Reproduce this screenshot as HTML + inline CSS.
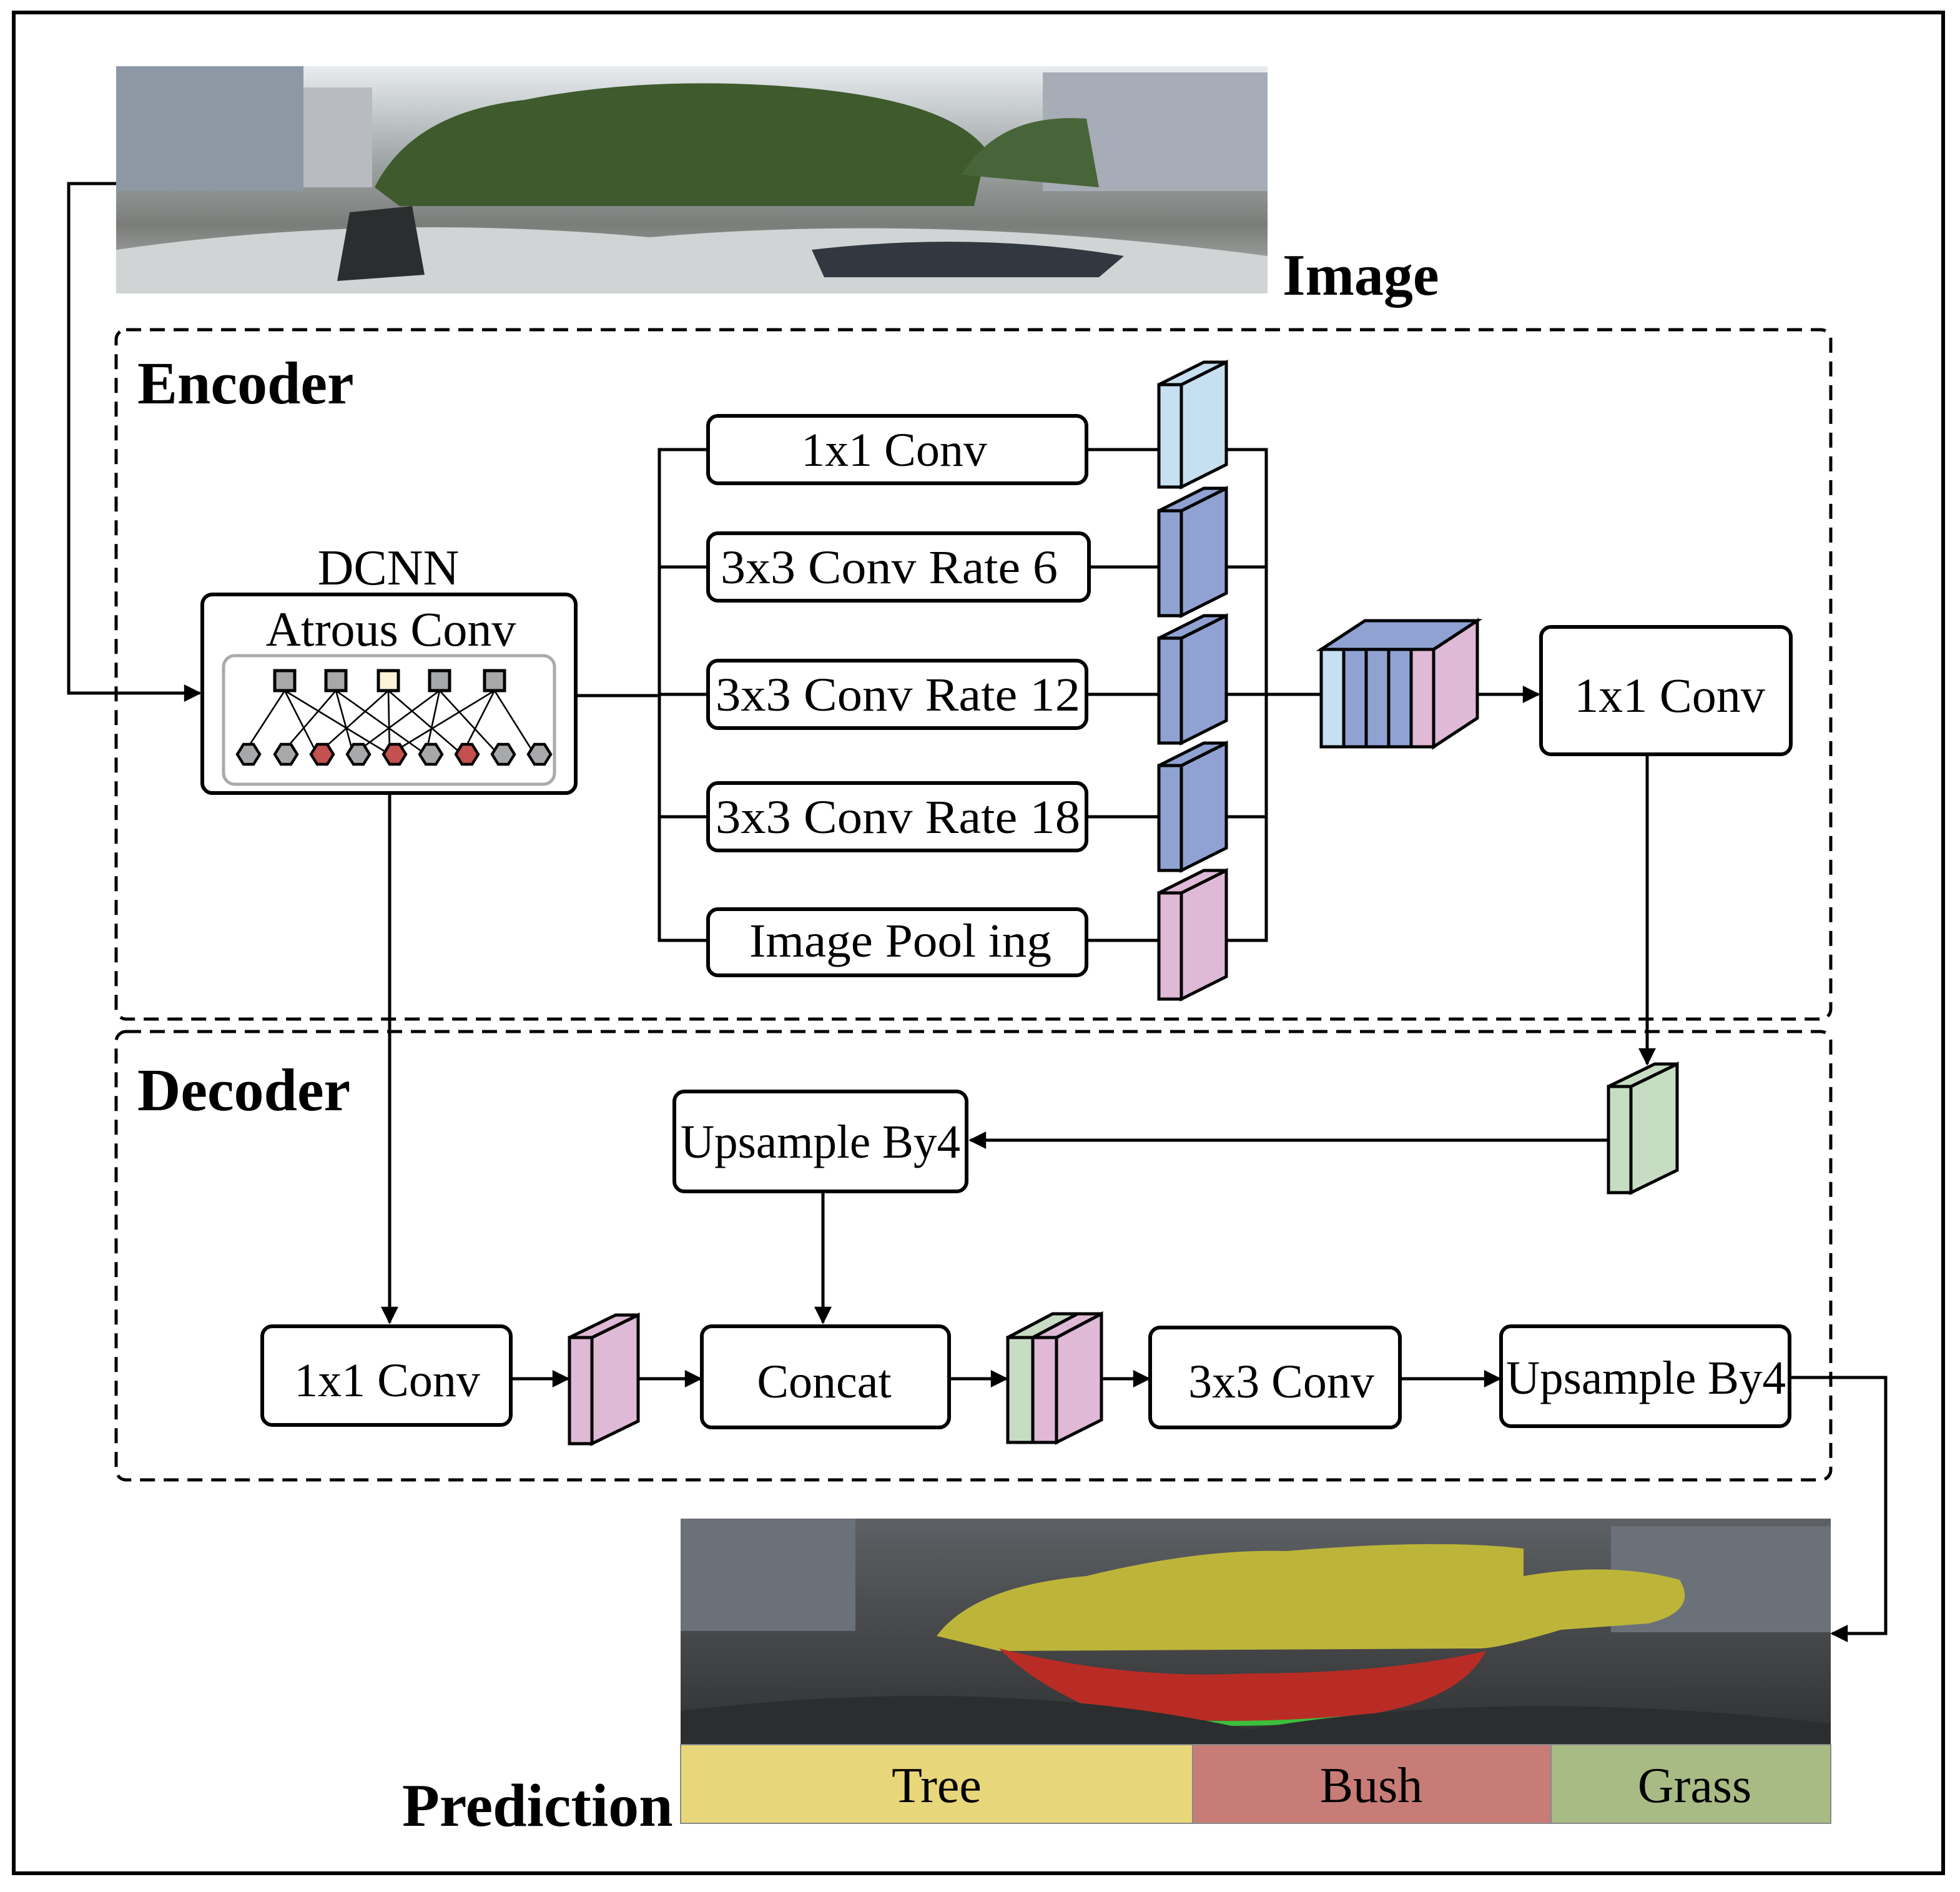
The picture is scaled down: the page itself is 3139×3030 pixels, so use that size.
<!DOCTYPE html>
<html><head><meta charset="utf-8"><style>
html,body{margin:0;padding:0;background:#fff}
svg{display:block}
text{font-family:"Liberation Serif",serif;fill:#000}
</style></head><body>
<svg width="3139" height="3030" viewBox="0 0 1569.5 1515" preserveAspectRatio="none" xmlns="http://www.w3.org/2000/svg">
<defs>
<marker id="ar2" viewBox="0 0 10 10" refX="9" refY="5" markerWidth="16" markerHeight="14" orient="auto" markerUnits="userSpaceOnUse"><path d="M0,0L10,5L0,10z" fill="#000"/></marker>
<linearGradient id="sky" x1="0" y1="0" x2="0" y2="1">
<stop offset="0" stop-color="#e8ecef"/><stop offset="0.45" stop-color="#9aa0a0"/><stop offset="0.7" stop-color="#7b7d7a"/><stop offset="1" stop-color="#b9bcbc"/></linearGradient>
<linearGradient id="dark" x1="0" y1="0" x2="0" y2="1">
<stop offset="0" stop-color="#5d6064"/><stop offset="0.5" stop-color="#46484a"/><stop offset="1" stop-color="#2f3132"/></linearGradient>
</defs>
<rect x="0" y="0" width="1569.5" height="1515" fill="#fff"/>
<rect x="11" y="10" width="1545" height="1490" fill="none" stroke="#000" stroke-width="3"/>

<!-- top photo -->
<rect x="93" y="53" width="922" height="182" fill="url(#sky)"/>
<rect x="93" y="53" width="150" height="100" fill="#8d98a5"/>
<rect x="243" y="70" width="55" height="80" fill="#b8bcc0"/>
<rect x="835" y="58" width="180" height="95" fill="#a6adb6"/>
<path d="M300,150 Q330,90 420,80 Q520,60 640,70 Q760,80 790,120 L780,165 L320,165 Z" fill="#3f5a2c"/>
<path d="M770,140 Q800,90 870,95 L880,150 Z" fill="#48653a"/>
<path d="M93,200 Q300,170 520,190 Q750,170 1015,205 L1015,235 L93,235 Z" fill="#d0d4d4"/>
<path d="M280,170 L330,165 L340,220 L270,225Z" fill="#2b2d2e"/>
<path d="M650,200 Q780,185 900,205 L880,222 L660,222Z" fill="#32383f"/>
<text x="1027" y="236" font-size="47" font-weight="bold">Image</text>

<!-- input line -->
<polyline points="93,147 55,147 55,555 160,555" fill="none" stroke="#000" stroke-width="2.5" marker-end="url(#ar2)"/>

<!-- encoder -->
<rect x="93" y="264" width="1373" height="552" rx="8" fill="none" stroke="#000" stroke-width="2.5" stroke-dasharray="12,7"/>
<text x="110" y="323" font-size="48" font-weight="bold">Encoder</text>

<text x="311" y="468" font-size="40" text-anchor="middle">DCNN</text>
<rect x="162" y="476" width="299" height="159" rx="8" fill="#fff" stroke="#000" stroke-width="3"/>
<text x="313" y="517" font-size="39" text-anchor="middle">Atrous Conv</text>
<rect x="179" y="525" width="265" height="103" rx="9" fill="#fff" stroke="#aaa" stroke-width="2.5"/>
<g stroke="#000" stroke-width="1.3">
<line x1="228" y1="553" x2="195" y2="604"/><line x1="228" y1="553" x2="254" y2="604"/><line x1="228" y1="553" x2="312" y2="604"/>
<line x1="269" y1="553" x2="225" y2="604"/><line x1="269" y1="553" x2="283" y2="604"/><line x1="269" y1="553" x2="341" y2="604"/>
<line x1="311" y1="553" x2="254" y2="604"/><line x1="311" y1="553" x2="312" y2="604"/><line x1="311" y1="553" x2="370" y2="604"/>
<line x1="352" y1="553" x2="283" y2="604"/><line x1="352" y1="553" x2="341" y2="604"/><line x1="352" y1="553" x2="399" y2="604"/>
<line x1="396" y1="553" x2="312" y2="604"/><line x1="396" y1="553" x2="370" y2="604"/><line x1="396" y1="553" x2="428" y2="604"/>
</g>
<g stroke="#000" stroke-width="2.5">
<rect x="220" y="537" width="16" height="16" fill="#a7a8aa"/>
<rect x="261" y="537" width="16" height="16" fill="#a7a8aa"/>
<rect x="303" y="537" width="16" height="16" fill="#fdf3d6"/>
<rect x="344" y="537" width="16" height="16" fill="#a7a8aa"/>
<rect x="388" y="537" width="16" height="16" fill="#a7a8aa"/>
</g>
<g stroke="#000" stroke-width="2.2">
<polygon points="191,596 199,596 204,604 199,612 191,612 186,604" fill="#a7a8aa" transform="translate(4,0)"/>
<polygon points="221,596 229,596 234,604 229,612 221,612 216,604" fill="#a7a8aa" transform="translate(4,0)"/>
<polygon points="250,596 258,596 263,604 258,612 250,612 245,604" fill="#c4504f" transform="translate(4,0)"/>
<polygon points="279,596 287,596 292,604 287,612 279,612 274,604" fill="#a7a8aa" transform="translate(4,0)"/>
<polygon points="308,596 316,596 321,604 316,612 308,612 303,604" fill="#c4504f" transform="translate(4,0)"/>
<polygon points="337,596 345,596 350,604 345,612 337,612 332,604" fill="#a7a8aa" transform="translate(4,0)"/>
<polygon points="366,596 374,596 379,604 374,612 366,612 361,604" fill="#c4504f" transform="translate(4,0)"/>
<polygon points="395,596 403,596 408,604 403,612 395,612 390,604" fill="#a7a8aa" transform="translate(4,0)"/>
<polygon points="424,596 432,596 437,604 432,612 424,612 419,604" fill="#a7a8aa" transform="translate(4,0)"/>
</g>

<!-- branches -->
<g stroke="#000" stroke-width="2.5" fill="none">
<line x1="461" y1="557" x2="528" y2="557"/>
<polyline points="567,360 528,360 528,753 567,753"/>
<line x1="528" y1="454" x2="567" y2="454"/>
<line x1="528" y1="556" x2="567" y2="556"/>
<line x1="528" y1="654" x2="567" y2="654"/>
<line x1="870" y1="360" x2="928" y2="360"/>
<line x1="872" y1="454" x2="928" y2="454"/>
<line x1="870" y1="556" x2="928" y2="556"/>
<line x1="870" y1="654" x2="928" y2="654"/>
<line x1="870" y1="753" x2="928" y2="753"/>
<polyline points="982,360 1014,360 1014,753 982,753"/>
<line x1="982" y1="454" x2="1014" y2="454"/>
<line x1="982" y1="556" x2="1058" y2="556"/>
<line x1="982" y1="654" x2="1014" y2="654"/>
</g>
<g fill="#fff" stroke="#000" stroke-width="3">
<rect x="567" y="333" width="303" height="54" rx="8"/>
<rect x="567" y="427" width="305" height="54" rx="8"/>
<rect x="567" y="529" width="303" height="54" rx="8"/>
<rect x="567" y="627" width="303" height="54" rx="8"/>
<rect x="567" y="728" width="303" height="53" rx="8"/>
</g>
<g font-size="38" text-anchor="middle">
<text x="716" y="373">1x1  Conv</text>
<text x="712" y="467" textLength="270" lengthAdjust="spacingAndGlyphs">3x3  Conv  Rate 6</text>
<text x="719" y="569" textLength="292" lengthAdjust="spacingAndGlyphs">3x3  Conv  Rate 12</text>
<text x="719" y="667" textLength="292" lengthAdjust="spacingAndGlyphs">3x3  Conv  Rate 18</text>
<text x="721" y="766" textLength="242" lengthAdjust="spacingAndGlyphs">Image  Pool ing</text>
</g>

<!-- encoder blocks -->
<g stroke="#000" stroke-width="2.5" stroke-linejoin="miter">
<g fill="#c6e0f2"><polygon points="946,308 982,290 982,372 946,390"/><polygon points="928,308 964,290 982,290 946,308"/><rect x="928" y="308" width="18" height="82"/></g>
<g fill="#8fa2d2"><polygon points="946,409 982,391 982,475 946,493"/><polygon points="928,409 964,391 982,391 946,409"/><rect x="928" y="409" width="18" height="84"/></g>
<g fill="#8fa2d2"><polygon points="946,511 982,493 982,577 946,595"/><polygon points="928,511 964,493 982,493 946,511"/><rect x="928" y="511" width="18" height="84"/></g>
<g fill="#8fa2d2"><polygon points="946,613 982,595 982,679 946,697"/><polygon points="928,613 964,595 982,595 946,613"/><rect x="928" y="613" width="18" height="84"/></g>
<g fill="#dfb9d6"><polygon points="946,715 982,697 982,782 946,800"/><polygon points="928,715 964,697 982,697 946,715"/><rect x="928" y="715" width="18" height="85"/></g>
</g>
<!-- concat block -->
<g stroke="#000" stroke-width="2.5">
<polygon points="1148,520 1183,497 1183,575 1148,598" fill="#dfb9d6"/>
<polygon points="1058,520 1093,497 1183,497 1148,520" fill="#8fa2d2"/>
<rect x="1058" y="520" width="18" height="78" fill="#c6e0f2"/>
<rect x="1076" y="520" width="18" height="78" fill="#8fa2d2"/>
<rect x="1094" y="520" width="18" height="78" fill="#8fa2d2"/>
<rect x="1112" y="520" width="18" height="78" fill="#8fa2d2"/>
<rect x="1130" y="520" width="18" height="78" fill="#dfb9d6"/>
</g>
<line x1="1183" y1="556" x2="1232" y2="556" stroke="#000" stroke-width="2.5" marker-end="url(#ar2)"/>
<rect x="1234" y="502" width="200" height="102" rx="8" fill="#fff" stroke="#000" stroke-width="3"/>
<text x="1337" y="570" font-size="39" text-anchor="middle">1x1  Conv</text>
<line x1="1319" y1="604" x2="1319" y2="852" stroke="#000" stroke-width="2.5" marker-end="url(#ar2)"/>

<!-- decoder -->
<rect x="93" y="826" width="1373" height="359" rx="8" fill="none" stroke="#000" stroke-width="2.5" stroke-dasharray="12,7"/>
<text x="110" y="889" font-size="48" font-weight="bold">Decoder</text>

<g stroke="#000" stroke-width="2.5">
<polygon points="1306,870 1343,852 1343,937 1306,955" fill="#c7ddc3"/>
<polygon points="1288,870 1325,852 1343,852 1306,870" fill="#c7ddc3"/>
<rect x="1288" y="870" width="18" height="85" fill="#c7ddc3"/>
</g>
<g stroke="#000" stroke-width="2.5" fill="none">
<line x1="1288" y1="913" x2="777" y2="913" marker-end="url(#ar2)"/>
<line x1="659" y1="954" x2="659" y2="1059" marker-end="url(#ar2)"/>
<line x1="312" y1="635" x2="312" y2="1059" marker-end="url(#ar2)"/>
<line x1="409" y1="1104" x2="455" y2="1104" marker-end="url(#ar2)"/>
<line x1="511" y1="1104" x2="561" y2="1104" marker-end="url(#ar2)"/>
<line x1="760" y1="1104" x2="806" y2="1104" marker-end="url(#ar2)"/>
<line x1="882" y1="1104" x2="920" y2="1104" marker-end="url(#ar2)"/>
<line x1="1121" y1="1104" x2="1201" y2="1104" marker-end="url(#ar2)"/>
<polyline points="1433,1103 1510,1103 1510,1308 1467,1308" marker-end="url(#ar2)"/>
</g>
<g fill="#fff" stroke="#000" stroke-width="3">
<rect x="540" y="874" width="234" height="80" rx="8"/>
<rect x="210" y="1062" width="199" height="79" rx="8"/>
<rect x="562" y="1062" width="198" height="81" rx="8"/>
<rect x="921" y="1063" width="200" height="80" rx="8"/>
<rect x="1202" y="1062" width="231" height="80" rx="8"/>
</g>
<g font-size="38" text-anchor="middle">
<text x="657" y="927" textLength="224" lengthAdjust="spacingAndGlyphs">Upsample By4</text>
<text x="310" y="1118">1x1  Conv</text>
<text x="660" y="1119">Concat</text>
<text x="1026" y="1119">3x3  Conv</text>
<text x="1318" y="1116" textLength="224" lengthAdjust="spacingAndGlyphs">Upsample By4</text>
</g>
<g stroke="#000" stroke-width="2.5">
<polygon points="474,1071 511,1053 511,1138 474,1156" fill="#dfb9d6"/>
<polygon points="456,1071 493,1053 511,1053 474,1071" fill="#dfb9d6"/>
<rect x="456" y="1071" width="18" height="85" fill="#dfb9d6"/>
</g>
<g stroke="#000" stroke-width="2.5">
<polygon points="846,1071 882,1052 882,1137 846,1155" fill="#dfb9d6"/>
<polygon points="807,1071 843,1052 882,1052 846,1071" fill="#dfb9d6"/>
<polygon points="807,1071 843,1052 863,1052 827,1071" fill="#c7ddc3"/>
<rect x="807" y="1071" width="20" height="84" fill="#c7ddc3"/>
<rect x="827" y="1071" width="19" height="84" fill="#dfb9d6"/>
</g>

<!-- prediction photo -->
<rect x="545" y="1216" width="921" height="181" fill="url(#dark)"/>
<rect x="545" y="1216" width="140" height="90" fill="#6a7178"/>
<rect x="1290" y="1222" width="176" height="85" fill="#6b7178"/>
<path d="M750,1310 Q780,1270 870,1262 Q960,1240 1030,1242 Q1150,1232 1220,1240 L1220,1262 Q1290,1250 1345,1265 Q1360,1290 1320,1300 L1250,1305 Q1200,1320 1185,1320 L800,1322 Z" fill="#bdb53a"/>
<path d="M800,1320 Q900,1345 1000,1340 Q1110,1340 1190,1322 Q1170,1360 1100,1372 Q980,1385 880,1370 Q830,1350 800,1320Z" fill="#b82c25"/>
<path d="M880,1375 Q980,1385 1090,1375" stroke="#3cbf3c" stroke-width="4" fill="none"/>
<path d="M545,1370 Q800,1340 1000,1385 Q1200,1350 1466,1380 L1466,1397 L545,1397Z" fill="#2c2d2e"/>
<rect x="545" y="1397" width="410" height="63" fill="#e8d67a"/>
<rect x="955" y="1397" width="287" height="63" fill="#c87c78"/>
<rect x="1242" y="1397" width="224" height="63" fill="#a8bb84"/>
<g stroke="#888" stroke-width="1" fill="none"><rect x="545" y="1397" width="921" height="63"/><line x1="955" y1="1397" x2="955" y2="1460"/><line x1="1242" y1="1397" x2="1242" y2="1460"/></g>
<g font-size="40" text-anchor="middle">
<text x="750" y="1443">Tree</text>
<text x="1098" y="1443">Bush</text>
<text x="1357" y="1443">Grass</text>
</g>
<text x="322" y="1462" font-size="49" font-weight="bold">Prediction</text>
</svg>
</body></html>
